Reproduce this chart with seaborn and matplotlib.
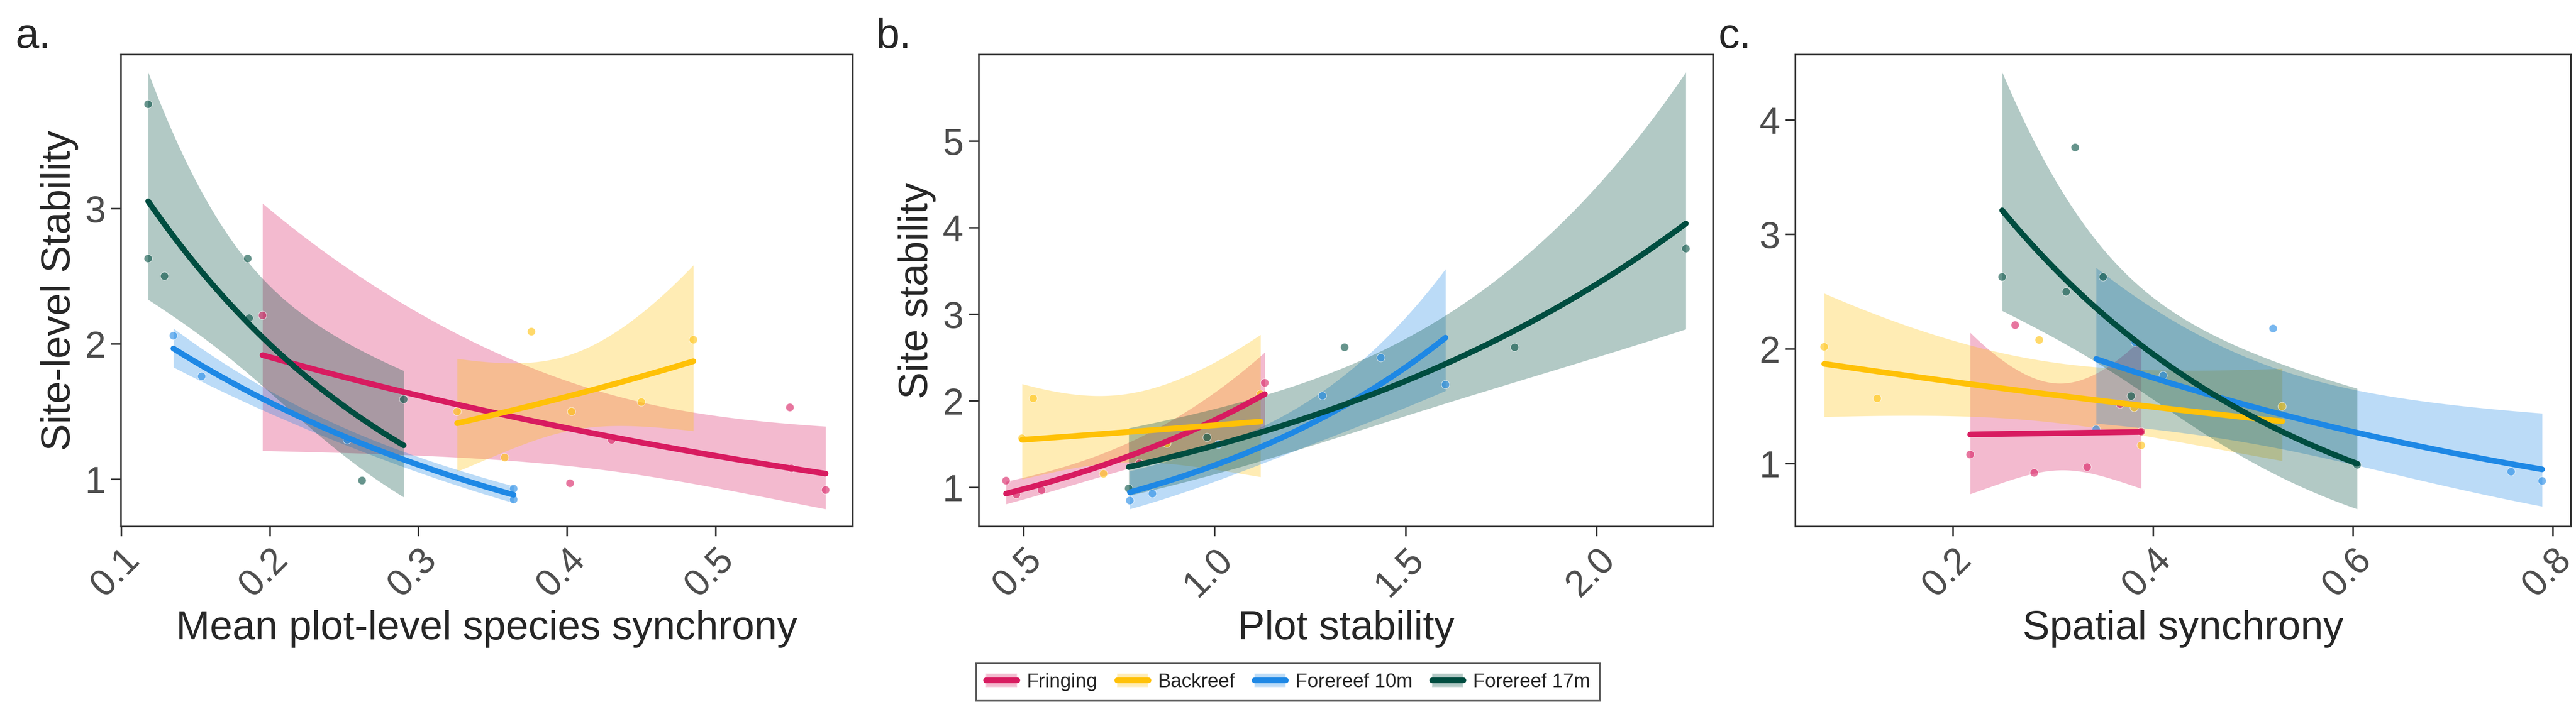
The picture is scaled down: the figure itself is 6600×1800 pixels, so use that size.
import numpy as np
import pandas as pd
import seaborn as sns
import matplotlib.pyplot as plt
from matplotlib.patches import Patch
from matplotlib.lines import Line2D
from matplotlib.legend_handler import HandlerTuple

HABITATS = ['Fringing', 'Backreef', 'Forereef 10m', 'Forereef 17m']
COLORS = {'Fringing': '#D81B60', 'Backreef': '#FFC107',
          'Forereef 10m': '#1E88E5', 'Forereef 17m': '#004D40'}

# panel a: mean plot-level species synchrony vs site stability
a_fringing_x = [0.195, 0.402, 0.430, 0.550, 0.551, 0.574]
a_fringing_y = [2.21, 0.97, 1.29, 1.53, 1.08, 0.92]
a_backreef_x = [0.326, 0.358, 0.376, 0.403, 0.450, 0.485]
a_backreef_y = [1.50, 1.16, 2.09, 1.50, 1.57, 2.03]
a_fr10_x = [0.135, 0.154, 0.252, 0.364, 0.364]
a_fr10_y = [2.06, 1.76, 1.29, 0.93, 0.85]
a_fr17_x = [0.118, 0.118, 0.129, 0.185, 0.186, 0.262, 0.290]
a_fr17_y = [3.77, 2.63, 2.50, 2.63, 2.19, 0.99, 1.59]

# panel b: plot stability vs site stability
b_fringing_x = [0.454, 0.481, 0.547, 0.803, 1.131]
b_fringing_y = [1.08, 0.92, 0.97, 1.28, 2.21]
b_backreef_x = [0.496, 0.525, 0.709, 0.875, 1.120]
b_backreef_y = [1.57, 2.03, 1.16, 1.51, 2.08]
b_fr10_x = [0.778, 0.837, 1.010, 1.282, 1.435, 1.604]
b_fr10_y = [0.85, 0.93, 1.50, 2.06, 2.50, 2.19]
b_fr17_x = [0.775, 0.980, 1.340, 1.785, 2.233]
b_fr17_y = [0.99, 1.58, 2.62, 2.62, 3.76]

# panel c: spatial synchrony vs site stability
c_fringing_x = [0.217, 0.262, 0.281, 0.334, 0.367, 0.388]
c_fringing_y = [1.08, 2.21, 0.92, 0.97, 1.52, 1.28]
c_backreef_x = [0.071, 0.124, 0.286, 0.381, 0.388, 0.529]
c_backreef_y = [2.02, 1.57, 2.08, 1.49, 1.16, 1.50]
c_fr10_x = [0.343, 0.382, 0.410, 0.520, 0.758, 0.789]
c_fr10_y = [1.30, 2.06, 1.77, 2.18, 0.93, 0.85]
c_fr17_x = [0.249, 0.313, 0.322, 0.350, 0.378, 0.604]
c_fr17_y = [2.63, 2.50, 3.76, 2.63, 1.59, 0.99]


def make_df(*pairs):
    rows = []
    for hab, (xs, ys) in zip(HABITATS, pairs):
        for x, y in zip(xs, ys):
            rows.append({'habitat': hab, 'x': x, 'y': y})
    return pd.DataFrame(rows)


panels = [
    ('a.', 'Mean plot-level species synchrony', 'Site-level Stability',
     make_df((a_fringing_x, a_fringing_y), (a_backreef_x, a_backreef_y),
             (a_fr10_x, a_fr10_y), (a_fr17_x, a_fr17_y)),
     [0.1, 0.2, 0.3, 0.4, 0.5], ['0.1', '0.2', '0.3', '0.4', '0.5'], [1, 2, 3]),
    ('b.', 'Plot stability', 'Site stability',
     make_df((b_fringing_x, b_fringing_y), (b_backreef_x, b_backreef_y),
             (b_fr10_x, b_fr10_y), (b_fr17_x, b_fr17_y)),
     [0.5, 1.0, 1.5, 2.0], ['0.5', '1.0', '1.5', '2.0'], [1, 2, 3, 4, 5]),
    ('c.', 'Spatial synchrony', '',
     make_df((c_fringing_x, c_fringing_y), (c_backreef_x, c_backreef_y),
             (c_fr10_x, c_fr10_y), (c_fr17_x, c_fr17_y)),
     [0.2, 0.4, 0.6, 0.8], ['0.2', '0.4', '0.6', '0.8'], [1, 2, 3, 4]),
]


def loglinear_fit(x, y, n=100):
    # y = exp(a + b x), fitted on log scale with 95% CI
    x = np.asarray(x); ly = np.log(np.asarray(y))
    X = np.column_stack([np.ones_like(x), x])
    beta = np.linalg.lstsq(X, ly, rcond=None)[0]
    dof = max(len(x) - 2, 1)
    resid = ly - X @ beta
    s2 = resid @ resid / dof
    cov = s2 * np.linalg.inv(X.T @ X)
    xg = np.linspace(x.min(), x.max(), n)
    G = np.column_stack([np.ones_like(xg), xg])
    fit = G @ beta
    se = np.sqrt(np.einsum('ij,jk,ik->i', G, cov, G))
    return xg, np.exp(fit), np.exp(fit - 1.96 * se), np.exp(fit + 1.96 * se)


sns.set_theme(style='white')
plt.rcParams['font.family'] = ['Liberation Sans', 'DejaVu Sans']

fig = plt.figure(figsize=(22, 6), dpi=300)
boxes = [[0.047, 0.25, 0.284, 0.672],
         [0.380, 0.25, 0.285, 0.672],
         [0.697, 0.25, 0.301, 0.672]]
letter_x = [0.006, 0.340, 0.667]

for box, lx, (letter, xlabel, ylabel, df, xt, xtl, yt) in zip(boxes, letter_x, panels):
    ax = fig.add_axes(box)
    for hab in HABITATS:
        sub = df[df.habitat == hab]
        xg, fit, lo, hi = loglinear_fit(sub.x, sub.y)
        ax.fill_between(xg, lo, hi, color=COLORS[hab], alpha=0.3, lw=0)
        sns.lineplot(x=xg, y=fit, color=COLORS[hab], lw=3.5, ax=ax)
    sns.scatterplot(data=df, x='x', y='y', hue='habitat', palette=COLORS,
                    s=25, alpha=0.6, legend=False, ax=ax)
    ax.set_xticks(xt)
    ax.set_xticklabels(xtl, rotation=45, ha='right', rotation_mode='anchor',
                       fontsize=23, color='#4d4d4d')
    ax.set_yticks(yt)
    ax.tick_params(axis='y', labelsize=23, labelcolor='#4d4d4d')
    ax.tick_params(axis='both', length=6, width=1, direction='out', color='#333333',
                   left=True, bottom=True)
    ax.set_xlabel(xlabel, fontsize=25, labelpad=4)
    ax.set_ylabel(ylabel, fontsize=25)
    for sp in ax.spines.values():
        sp.set_color('#333333'); sp.set_linewidth(1)
    ax.margins(x=0.04, y=0.04)
    fig.text(lx, 0.975, letter, fontsize=26, va='top')

# shared legend under panel b
handles = [(Patch(facecolor=COLORS[h], alpha=0.3), Line2D([], [], color=COLORS[h], lw=3.5))
           for h in HABITATS]
fig.legend(handles, HABITATS, loc='lower center', bbox_to_anchor=(0.5, -0.012), ncol=4,
           fontsize=12, frameon=True, fancybox=False, edgecolor='#333333',
           handler_map={tuple: HandlerTuple(ndivide=1)}, handlelength=1.6,
           columnspacing=1.0, borderpad=0.5, handletextpad=0.5)

fig.savefig('out.png', dpi=300, facecolor='white')
